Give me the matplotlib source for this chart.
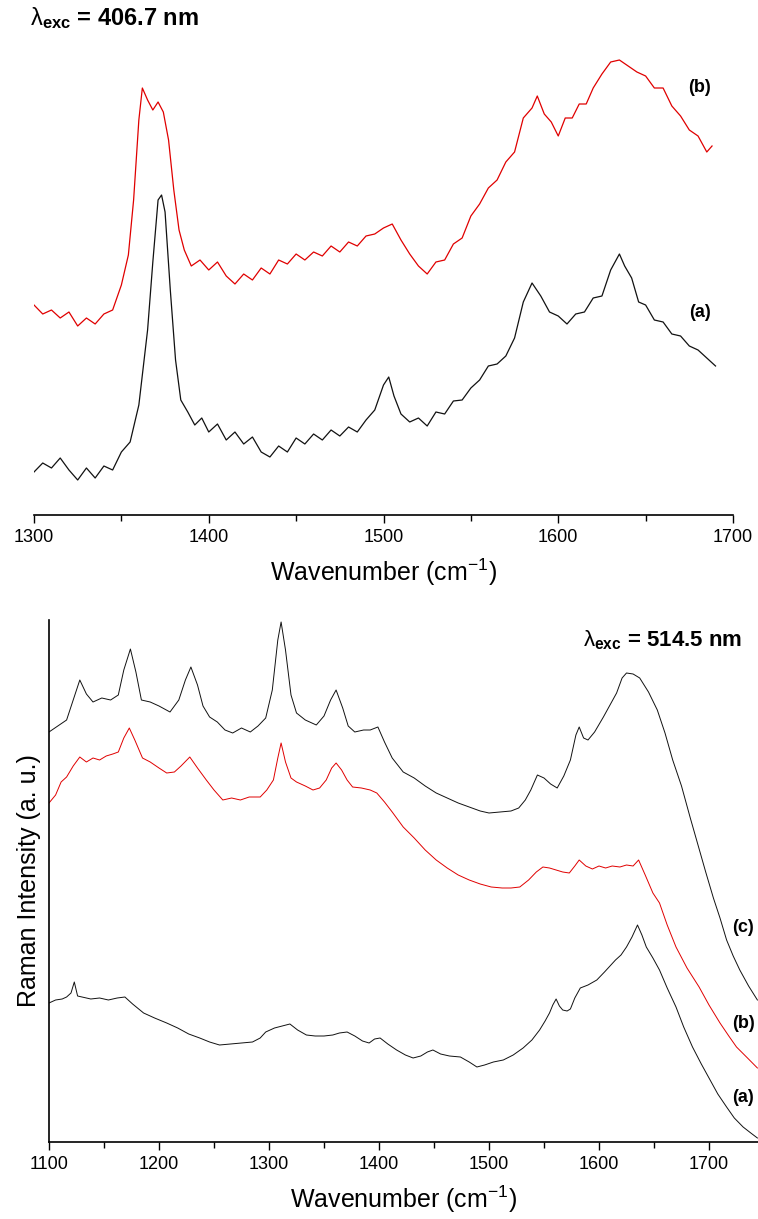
import numpy as np
import matplotlib
matplotlib.use('Agg')
import matplotlib.pyplot as plt
from matplotlib import font_manager
from matplotlib.ticker import MultipleLocator

# --- 406.7 nm excitation (top panel) ---------------------------------------
wn_406_a = [1300, 1305, 1310, 1315, 1320, 1325, 1330, 1335, 1340, 1345, 1350, 1355,
            1360, 1365, 1368, 1371, 1373, 1375, 1378, 1381, 1384, 1388, 1392, 1396,
            1400, 1405, 1410, 1415, 1420, 1425, 1430, 1435, 1440, 1445, 1450, 1455,
            1460, 1465, 1470, 1475, 1480, 1485, 1490, 1495, 1500, 1503, 1506, 1510,
            1515, 1520, 1525, 1530, 1535, 1540, 1545, 1550, 1555, 1560, 1565, 1570,
            1575, 1580, 1585, 1590, 1595, 1600, 1605, 1610, 1615, 1620, 1625, 1630,
            1635, 1638, 1642, 1646, 1650, 1655, 1660, 1665, 1670, 1675, 1680, 1685, 1690]
int_406_a = [43, 52, 47, 57, 45, 35, 47, 37, 49, 45, 63, 73,
             110, 185, 253, 315, 320, 303, 225, 155, 115, 103, 90, 97,
             83, 91, 75, 83, 71, 78, 63, 58, 69, 63, 77, 71,
             81, 75, 85, 79, 88, 83, 95, 105, 130, 138, 119, 101,
             93, 97, 89, 103, 101, 114, 115, 127, 135, 149, 151, 159,
             177, 213, 232, 219, 203, 199, 191, 201, 203, 217, 219, 245,
             261, 249, 237, 213, 210, 195, 193, 181, 179, 169, 165, 157, 149]

wn_406_b = [1300, 1305, 1310, 1315, 1320, 1325, 1330, 1335, 1340, 1345, 1350, 1354,
            1357, 1360, 1362, 1365, 1368, 1371, 1374, 1377, 1380, 1383, 1386, 1390,
            1395, 1400, 1405, 1410, 1415, 1420, 1425, 1430, 1435, 1440, 1445, 1450,
            1455, 1460, 1465, 1470, 1475, 1480, 1485, 1490, 1495, 1500, 1505, 1510,
            1515, 1520, 1525, 1530, 1535, 1540, 1545, 1550, 1555, 1560, 1565, 1570,
            1575, 1580, 1585, 1588, 1592, 1596, 1600, 1604, 1608, 1612, 1616, 1620,
            1625, 1630, 1635, 1640, 1645, 1650, 1655, 1660, 1665, 1670, 1675, 1680,
            1685, 1688]
int_406_b = [210, 201, 205, 197, 203, 189, 197, 191, 201, 205, 230, 260,
             315, 395, 427, 415, 405, 413, 403, 375, 325, 285, 265, 249,
             255, 245, 253, 239, 231, 241, 235, 247, 241, 255, 251, 261,
             255, 263, 259, 269, 263, 273, 269, 279, 281, 287, 291, 275,
             261, 249, 241, 253, 255, 271, 277, 299, 311, 327, 335, 353,
             363, 397, 407, 419, 401, 393, 379, 397, 397, 411, 411, 427,
             441, 453, 455, 449, 443, 439, 427, 427, 409, 399, 385, 379,
             363, 369]

# --- 514.5 nm excitation (bottom panel) ------------------------------------
wn_514_c = [1100, 1108, 1116, 1122, 1128, 1134, 1140, 1148, 1156, 1163, 1168, 1174,
            1179, 1184, 1192, 1200, 1210, 1218, 1224, 1229, 1235, 1240, 1246, 1253,
            1260, 1267, 1275, 1283, 1290, 1297, 1303, 1308, 1311, 1315, 1320, 1325,
            1333, 1343, 1350, 1356, 1361, 1367, 1372, 1378, 1386, 1392, 1399, 1405,
            1412, 1422, 1432, 1442, 1452, 1462, 1472, 1482, 1492, 1500, 1510, 1520,
            1527, 1533, 1538, 1544, 1550, 1556, 1562, 1568, 1574, 1579, 1582, 1586,
            1590, 1596, 1604, 1610, 1616, 1621, 1625, 1631, 1637, 1645, 1653, 1660,
            1667, 1675, 1683, 1690, 1697, 1704, 1710, 1716, 1722, 1728, 1736, 1744]
int_514_c = [410, 416, 422, 442, 462, 448, 440, 444, 442, 447, 472, 493,
             470, 442, 440, 436, 430, 442, 462, 475, 457, 436, 425, 420,
             412, 409, 414, 410, 416, 424, 452, 502, 520, 492, 447, 429,
             422, 417, 426, 442, 452, 434, 416, 410, 412, 412, 415, 400,
             384, 370, 364, 356, 349, 344, 339, 335, 331, 329, 330, 331,
             334, 342, 352, 367, 364, 358, 354, 366, 382, 407, 415, 404,
             402, 410, 425, 437, 449, 464, 469, 468, 464, 450, 432, 409,
             382, 356, 324, 297, 270, 244, 224, 202, 186, 172, 156, 142]

wn_514_b = [1100, 1106, 1111, 1116, 1122, 1128, 1134, 1140, 1146, 1152, 1158, 1163,
            1168, 1173, 1178, 1185, 1192, 1200, 1207, 1214, 1220, 1228, 1235, 1243,
            1250, 1258, 1266, 1274, 1282, 1292, 1298, 1304, 1308, 1311, 1315, 1320,
            1325, 1333, 1340, 1346, 1352, 1357, 1361, 1366, 1371, 1376, 1384, 1392,
            1398, 1405, 1412, 1422, 1432, 1442, 1452, 1462, 1472, 1482, 1492, 1502,
            1512, 1520, 1528, 1536, 1543, 1549, 1555, 1561, 1567, 1573, 1578, 1582,
            1588, 1594, 1600, 1606, 1612, 1619, 1625, 1631, 1636, 1642, 1649, 1655,
            1662, 1670, 1680, 1691, 1700, 1710, 1718, 1725, 1735, 1744]
int_514_b = [339, 347, 360, 365, 376, 385, 380, 384, 382, 386, 388, 390,
             404, 414, 402, 384, 380, 374, 369, 370, 376, 385, 374, 362,
             352, 342, 344, 342, 345, 345, 352, 362, 384, 399, 380, 364,
             360, 356, 352, 354, 362, 374, 379, 372, 362, 355, 354, 352,
             349, 340, 330, 315, 304, 292, 282, 274, 267, 262, 258, 255,
             254, 254, 255, 262, 270, 275, 274, 272, 270, 269, 276, 282,
             276, 273, 276, 274, 276, 275, 277, 276, 282, 267, 249, 239,
             217, 195, 174, 155, 137, 119, 106, 95, 84, 74]

wn_514_a = [1100, 1106, 1112, 1116, 1120, 1123, 1126, 1130, 1138, 1146, 1154, 1162,
            1169, 1176, 1186, 1196, 1207, 1217, 1227, 1237, 1246, 1255, 1265, 1275,
            1285, 1292, 1297, 1305, 1312, 1319, 1326, 1334, 1342, 1350, 1358, 1364,
            1371, 1378, 1385, 1391, 1396, 1401, 1408, 1416, 1424, 1431, 1438, 1444,
            1449, 1456, 1464, 1474, 1482, 1489, 1496, 1504, 1513, 1522, 1531, 1539,
            1546, 1551, 1555, 1558, 1561, 1564, 1567, 1571, 1574, 1578, 1583, 1590,
            1598, 1605, 1610, 1615, 1620, 1625, 1630, 1635, 1639, 1643, 1649, 1655,
            1662, 1670, 1677, 1685, 1693, 1701, 1708, 1716, 1723, 1731, 1738, 1744]
int_514_a = [139, 142, 143, 145, 149, 160, 146, 145, 143, 144, 142, 144,
             145, 138, 129, 124, 119, 114, 108, 104, 100, 97, 98, 99,
             100, 104, 110, 114, 116, 118, 112, 107, 106, 106, 107, 109,
             110, 106, 101, 99, 103, 104, 98, 92, 87, 84, 86, 90,
             92, 88, 86, 85, 80, 75, 77, 80, 82, 87, 94, 102,
             112, 121, 129, 137, 143, 136, 132, 131, 133, 144, 154, 157,
             162, 170, 176, 182, 187, 195, 205, 217, 207, 195, 184, 172,
             154, 135, 115, 95, 78, 62, 48, 35, 24, 15, 9, 4]

RED = '#e00000'
BLACK = '#111111'

# pick a narrow sans if one is installed, otherwise plain Liberation Sans
names = {f.name for f in font_manager.fontManager.ttflist}
family = 'Liberation Sans Narrow' if 'Liberation Sans Narrow' in names else 'Liberation Sans'
plt.rcParams['font.family'] = [family, 'DejaVu Sans']
plt.rcParams['mathtext.fontset'] = 'custom'
plt.rcParams['mathtext.rm'] = 'Liberation Sans'
plt.rcParams['mathtext.bf'] = 'Liberation Sans:bold'
plt.rcParams['mathtext.it'] = 'Liberation Sans:italic'
plt.rcParams['axes.unicode_minus'] = False

W, H = 758, 1219
fig = plt.figure(figsize=(W / 100, H / 100), dpi=100)

XLABEL = r'Wavenumber (cm$^{\mathregular{-1}}$)'
LAMBDA = r'$\mathrm{\lambda}_{\mathbf{exc}}$'


def style_x(ax):
    ax.xaxis.set_major_locator(MultipleLocator(100))
    ax.xaxis.set_minor_locator(MultipleLocator(50))
    ax.tick_params(axis='x', which='major', direction='out', length=6, width=1,
                   labelsize=13, pad=4)
    ax.tick_params(axis='x', which='minor', direction='out', length=4, width=1)
    ax.set_yticks([])
    for s in ('top', 'right'):
        ax.spines[s].set_visible(False)
    ax.spines['bottom'].set_linewidth(1.2)
    ax.set_xlabel(XLABEL, fontsize=18, labelpad=8)


# top panel
ax1 = fig.add_axes([34 / W, 1 - 515 / H, 699 / W, 465 / H])
ax1.plot(wn_406_a, int_406_a, color=BLACK, lw=0.9)
ax1.plot(wn_406_b, int_406_b, color=RED, lw=0.9)
ax1.set_xlim(1300, 1700)
ax1.set_ylim(0, 465)
style_x(ax1)
ax1.spines['left'].set_visible(False)
ax1.text(1681, 427, '(b)', fontsize=13, fontweight='bold', ha='center', va='center')
ax1.text(1681, 202, '(a)', fontsize=13, fontweight='bold', ha='center', va='center')
fig.text(30 / W, 1 - 18 / H, LAMBDA + ' = 406.7 nm',
         fontsize=17, fontweight='bold', ha='left', va='center')

# bottom panel
ax2 = fig.add_axes([49 / W, 1 - 1142 / H, 709.5 / W, 522 / H])
ax2.plot(wn_514_c, int_514_c, color=BLACK, lw=0.7)
ax2.plot(wn_514_b, int_514_b, color=RED, lw=0.7)
ax2.plot(wn_514_a, int_514_a, color=BLACK, lw=0.7)
ax2.set_xlim(1100, 1745)
ax2.set_ylim(0, 522)
style_x(ax2)
ax2.spines['left'].set_linewidth(1.2)
ax2.set_ylabel('Raman Intensity (a. u.)', fontsize=18, labelpad=6)
ax2.text(1731, 215, '(c)', fontsize=13, fontweight='bold', ha='center', va='center')
ax2.text(1731, 119, '(b)', fontsize=13, fontweight='bold', ha='center', va='center')
ax2.text(1731, 45, '(a)', fontsize=13, fontweight='bold', ha='center', va='center')
fig.text(583 / W, 1 - 640 / H, LAMBDA + ' = 514.5 nm',
         fontsize=16, fontweight='bold', ha='left', va='center')

fig.savefig('out.png', dpi=100)
